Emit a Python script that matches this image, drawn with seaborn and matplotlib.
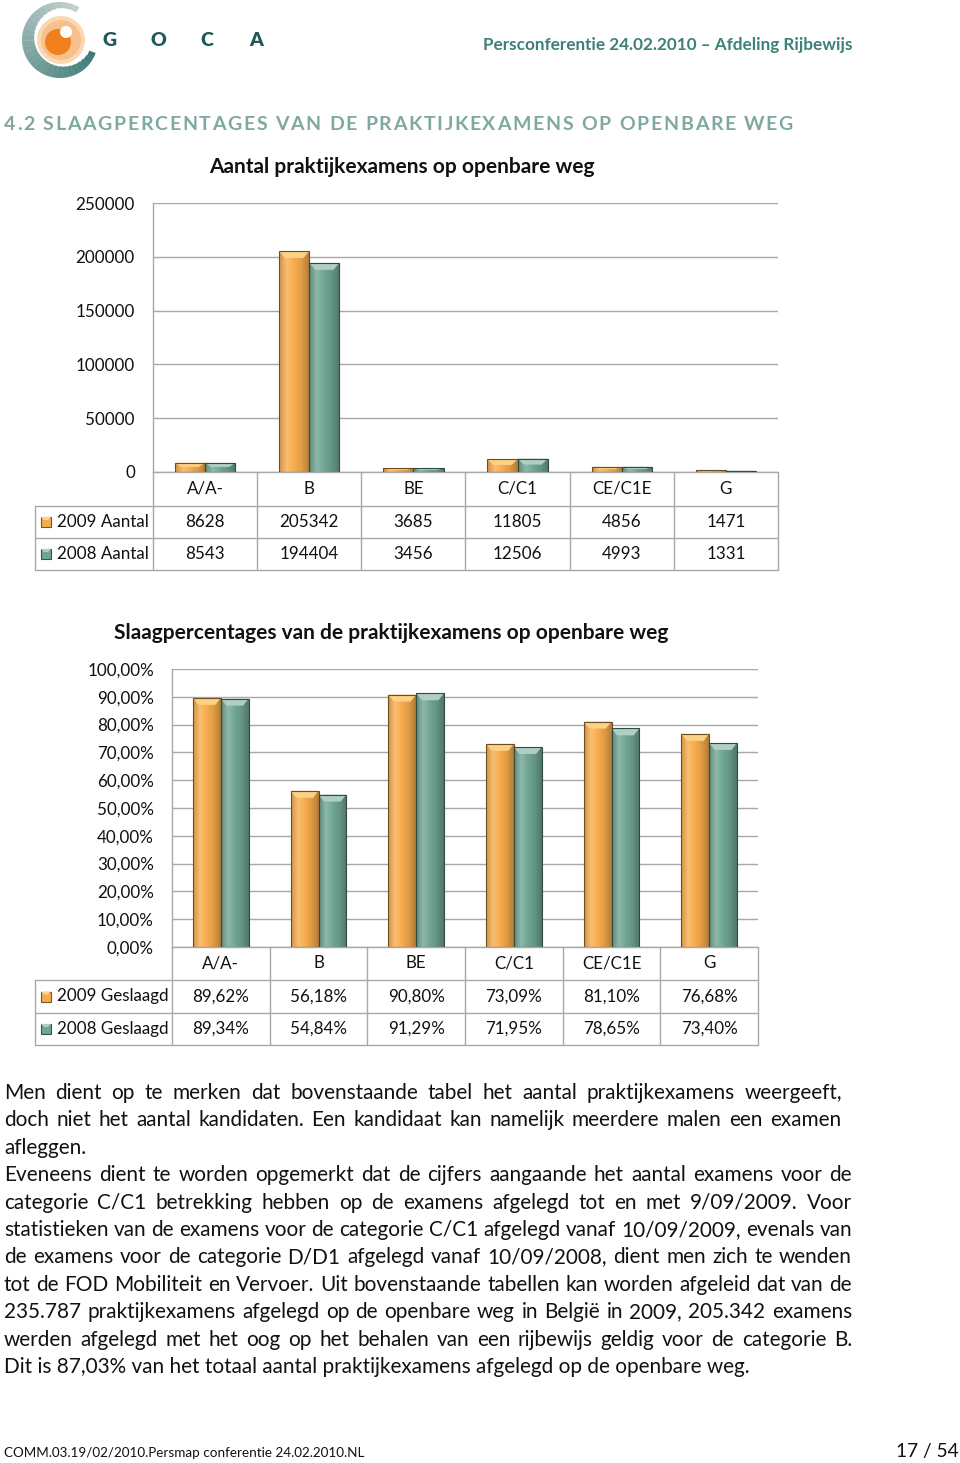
import numpy as np
import pandas as pd
import matplotlib
matplotlib.use("Agg")
import matplotlib.pyplot as plt
import seaborn as sns
from matplotlib.patches import Rectangle, Circle, Wedge, Polygon
from matplotlib.colors import LinearSegmentedColormap, to_rgb

# ---------------- data ----------------
categories = ["A/A-", "B", "BE", "C/C1", "CE/C1E", "G"]
aantal_2009 = [8628, 205342, 3685, 11805, 4856, 1471]
aantal_2008 = [8543, 194404, 3456, 12506, 4993, 1331]
geslaagd_2009 = [89.62, 56.18, 90.80, 73.09, 81.10, 76.68]
geslaagd_2008 = [89.34, 54.84, 91.29, 71.95, 78.65, 73.40]
series_aantal = ["2009 Aantal", "2008 Aantal"]
series_geslaagd = ["2009 Geslaagd", "2008 Geslaagd"]
yticks_aantal = [0, 50000, 100000, 150000, 200000, 250000]
yticks_pct = [0, 10, 20, 30, 40, 50, 60, 70, 80, 90, 100]

title_aantal = "Aantal praktijkexamens op openbare weg"
title_pct = "Slaagpercentages van de praktijkexamens op openbare weg"
header_right = "Persconferentie 24.02.2010 \u2013 Afdeling Rijbewijs"
section_title = "4.2 SLAAGPERCENTAGES VAN DE PRAKTIJKEXAMENS OP OPENBARE WEG"
footer_left = "COMM.03.19/02/2010.Persmap conferentie 24.02.2010.NL"
footer_right = "17 / 54"
body_lines = [
    ("Men dient op te merken dat bovenstaande tabel het aantal praktijkexamens weergeeft,", True, 842),
    ("doch niet het aantal kandidaten. Een kandidaat kan namelijk meerdere malen een examen", True, 841),
    ("afleggen.", False, None),
    ("Eveneens dient te worden opgemerkt dat de cijfers aangaande het aantal examens voor de", True, 852),
    ("categorie C/C1 betrekking hebben op de examens afgelegd tot en met 9/09/2009. Voor", True, 852),
    ("statistieken van de examens voor de categorie C/C1 afgelegd vanaf 10/09/2009, evenals van", True, 852),
    ("de examens voor de categorie D/D1 afgelegd vanaf 10/09/2008, dient men zich te wenden", True, 852),
    ("tot de FOD Mobiliteit en Vervoer. Uit bovenstaande tabellen kan worden afgeleid dat van de", True, 852),
    ("235.787 praktijkexamens afgelegd op de openbare weg in Belgi\u00eb in 2009, 205.342 examens", True, 852),
    ("werden afgelegd met het oog op het behalen van een rijbewijs geldig voor de categorie B.", True, 852),
    ("Dit is 87,03% van het totaal aantal praktijkexamens afgelegd op de openbare weg.", False, None),
]

# ---------------- style ----------------
ORANGE = "#F7AC4C"
TEAL = "#6FA592"
GRID = "#A8A8A8"
TXT = "#111111"

sns.set_theme(style="white")
plt.rcParams['font.family'] = ['Lato', 'DejaVu Sans']

W, H = 960, 1463
fig = plt.figure(figsize=(W / 100, H / 100), dpi=100)
fig.patch.set_facecolor("white")
renderer = fig.canvas.get_renderer()


def text_width(s, size, weight='normal'):
    t = fig.text(0, 0, s, fontsize=size, fontweight=weight)
    w = t.get_window_extent(renderer).width
    t.remove()
    return w


def fit_size(s, target, weight='normal'):
    return 20.0 * target / text_width(s, 20, weight)


ov = fig.add_axes([0, 0, 1, 1], zorder=10)
ov.set_xlim(0, W)
ov.set_ylim(H, 0)
ov.axis('off')
ov.patch.set_alpha(0)

FS = fit_size("250000", 55) * 1.08


def disp_to_px(ax, x, y):
    dx, dy = ax.transData.transform((x, y))
    return dx, H - dy


def bevel_bars(ax):
    ylo, yhi = ax.get_ylim()
    xlo, xhi = ax.get_xlim()
    bb = ax.get_window_extent(renderer)
    per_px_y = (yhi - ylo) / bb.height
    per_px_x = (xhi - xlo) / bb.width
    bars = [p for p in ax.patches if isinstance(p, Rectangle) and p.get_height() > 0]
    for p in bars:
        fc = np.array(p.get_facecolor()[:3])
        x0, y0, w, h = p.get_x(), p.get_y(), p.get_width(), p.get_height()
        light = fc + (1 - fc) * 0.22
        dark = fc * 0.72
        cmap = LinearSegmentedColormap.from_list('b', [fc * 0.85, light, fc, fc * 0.9, dark])
        grad = np.linspace(0, 1, 64)[None, :]
        im = ax.imshow(grad, cmap=cmap, extent=[x0, x0 + w, y0, y0 + h], aspect='auto',
                       origin='lower', zorder=2, interpolation='bilinear')
        im.set_clip_path(p)
        dy = min(7 * per_px_y, h * 0.45)
        dx = min(6 * per_px_x, w * 0.2)
        top = fc + (1 - fc) * 0.45
        top[2] = top[2] * 0.85 if fc[0] > fc[2] else top[2]
        ax.add_patch(Polygon([(x0, y0 + h), (x0 + w, y0 + h), (x0 + w - dx, y0 + h - dy),
                              (x0 + dx, y0 + h - dy)], closed=True, facecolor=top,
                             edgecolor='none', zorder=2.5))
        p.set_facecolor('none')
        p.set_edgecolor(tuple(fc * 0.45))
        p.set_linewidth(0.8)
        p.set_zorder(3)
    ax.set_xlim(xlo, xhi)
    ax.set_ylim(ylo, yhi)


def make_chart(rect_px, values_a, values_b, names, yticks, ylabels, width):
    left, top, right, bottom = rect_px
    ax = fig.add_axes([left / W, 1 - bottom / H, (right - left) / W, (bottom - top) / H])
    df = pd.DataFrame({"cat": categories * 2,
                       "serie": [names[0]] * len(categories) + [names[1]] * len(categories),
                       "val": list(values_a) + list(values_b)})
    sns.barplot(data=df, x="cat", y="val", hue="serie", hue_order=names,
                palette=[ORANGE, TEAL], width=width, saturation=1, ax=ax, legend=False,
                errorbar=None)
    ax.set_xlim(-0.5, len(categories) - 0.5)
    ax.set_ylim(yticks[0], yticks[-1])
    ax.set_yticks(yticks)
    ax.set_yticklabels(ylabels, fontsize=FS, color=TXT)
    ax.set_xticks([])
    ax.set_xlabel("")
    ax.set_ylabel("")
    ax.tick_params(axis='y', length=0, pad=13)
    ax.yaxis.grid(True, color=GRID, linewidth=1)
    ax.set_axisbelow(True)
    ax.patch.set_alpha(0)
    for s in ["top", "right"]:
        ax.spines[s].set_visible(False)
    for s in ["left", "bottom"]:
        ax.spines[s].set_color(GRID)
        ax.spines[s].set_linewidth(1)
    bevel_bars(ax)
    return ax


def make_table(ax, row_names, rows, row_edges, left_px):
    xs = [disp_to_px(ax, i - 0.5, 0)[0] for i in range(len(categories) + 1)]
    top_y = row_edges[0]
    bot_y = row_edges[-1]
    for x in xs:
        ov.plot([x, x], [top_y, bot_y], color=GRID, lw=1, solid_capstyle='butt')
    ov.plot([left_px, left_px], [row_edges[1], bot_y], color=GRID, lw=1)
    for y in row_edges[1:]:
        ov.plot([left_px, xs[-1]], [y, y], color=GRID, lw=1)
    yc = (row_edges[0] + row_edges[1]) / 2
    for i, c in enumerate(categories):
        ov.text((xs[i] + xs[i + 1]) / 2, yc, c, ha='center', va='center', fontsize=FS, color=TXT)
    cols = [ORANGE, TEAL]
    for r in range(2):
        yc = (row_edges[r + 1] + row_edges[r + 2]) / 2
        base = np.array(to_rgb(cols[r]))
        ov.add_patch(Rectangle((left_px + 6, yc - 5), 10, 10, facecolor=base,
                               edgecolor=tuple(base * 0.5), lw=0.8))
        ov.add_patch(Polygon([(left_px + 6, yc - 5), (left_px + 16, yc - 5), (left_px + 13, yc - 2),
                              (left_px + 9, yc - 2)], facecolor=tuple(base + (1 - base) * 0.45),
                             edgecolor='none'))
        ov.text(left_px + 22, yc, row_names[r], ha='left', va='center', fontsize=FS, color=TXT)
        for i in range(len(categories)):
            ov.text((xs[i] + xs[i + 1]) / 2, yc, rows[r][i], ha='center', va='center',
                    fontsize=FS, color=TXT)


# ---------------- chart 1 ----------------
ax1 = make_chart((153, 203, 778, 472), aantal_2009, aantal_2008, series_aantal,
                 yticks_aantal, [str(v) for v in yticks_aantal], 0.58)
make_table(ax1, series_aantal, [[str(v) for v in aantal_2009], [str(v) for v in aantal_2008]],
           [472, 506, 538, 570], 35)
ov.text(401.5, 167, title_aantal, ha='center', va='center', fontweight='bold', color=TXT,
        fontsize=fit_size(title_aantal, 385, 'bold'))


# ---------------- chart 2 ----------------
def pct(v):
    return f"{v:.2f}".replace('.', ',') + '%'


ax2 = make_chart((172, 669, 758, 947), geslaagd_2009, geslaagd_2008, series_geslaagd,
                 yticks_pct, [pct(v) for v in yticks_pct], 0.57)
make_table(ax2, series_geslaagd, [[pct(v) for v in geslaagd_2009], [pct(v) for v in geslaagd_2008]],
           [947, 980, 1013, 1045], 35)
ov.text(391, 633, title_pct, ha='center', va='center', fontweight='bold', color=TXT,
        fontsize=fit_size(title_pct, 554, 'bold'))

# ---------------- header / logo ----------------
cx, cy = 60, 40
nseg = 30
c_start = np.array(to_rgb("#3E7C76"))
c_end = np.array(to_rgb("#C2D0CE"))
th = np.linspace(20, 300, nseg + 1)
for k in range(nseg):
    f = k / (nseg - 1)
    col = c_start * (1 - f) + c_end * f
    wdt = 6 + 7 * np.sin(np.pi * min(1.0, (k + 1) / nseg * 1.1))
    ov.add_patch(Wedge((cx, cy), 38, th[k], th[k + 1] + 0.5, width=wdt, facecolor=col, edgecolor='none'))
ov.add_patch(Circle((cx + 1, cy), 24, facecolor="#FBD7B3", edgecolor='none'))
ov.add_patch(Circle((cx + 1, cy), 20, facecolor="#F8C08C", edgecolor='none'))
ov.add_patch(Circle((cx - 2, cy + 2), 13, facecolor="#F07F1E", edgecolor='none'))
ov.add_patch(Circle((cx + 6, cy - 8), 6, facecolor="white", edgecolor='none'))
for ch, x in zip("GOCA", [110, 158, 207, 256]):
    ov.text(x, 40, ch, ha='center', va='center', fontsize=14, fontweight='heavy', color="#1F5A55")

ov.text(483, 45, header_right, ha='left', va='center', fontweight='bold', color="#3C8077",
        fontsize=fit_size(header_right, 370, 'bold'))

# section heading with letter spacing
sec_size = 14
space_w = text_width("a a", sec_size, 'bold') - text_width("aa", sec_size, 'bold')
cws = [space_w if c == ' ' else text_width(c, sec_size, 'bold') for c in section_title]
track = (789 - sum(cws)) / (len(section_title) - 1)
x = 4
for c, cw in zip(section_title, cws):
    if c != ' ':
        ov.text(x, 125, c, ha='left', va='center', fontsize=sec_size, fontweight='bold', color="#7FA8A1")
    x += cw + track

# ---------------- body text ----------------
BFS = fit_size(body_lines[-1][0], 748)
y0 = 1093
dy = 27.4
for i, (line, just, xr) in enumerate(body_lines):
    y = y0 + i * dy
    if not just:
        ov.text(4, y, line, ha='left', va='center', fontsize=BFS, color=TXT)
        continue
    words = line.split(' ')
    ws = [text_width(w, BFS) for w in words]
    gap = (xr - 4 - sum(ws)) / (len(words) - 1)
    x = 4
    for w, wd in zip(words, ws):
        ov.text(x, y, w, ha='left', va='center', fontsize=BFS, color=TXT)
        x += wd + gap

# ---------------- footer ----------------
ov.text(4, 1453, footer_left, ha='left', va='center', color=TXT,
        fontsize=fit_size(footer_left, 361))
ov.text(959, 1451, footer_right, ha='right', va='center', color=TXT,
        fontsize=fit_size(footer_right, 63))

fig.savefig("out.png", dpi=100, facecolor="white")
